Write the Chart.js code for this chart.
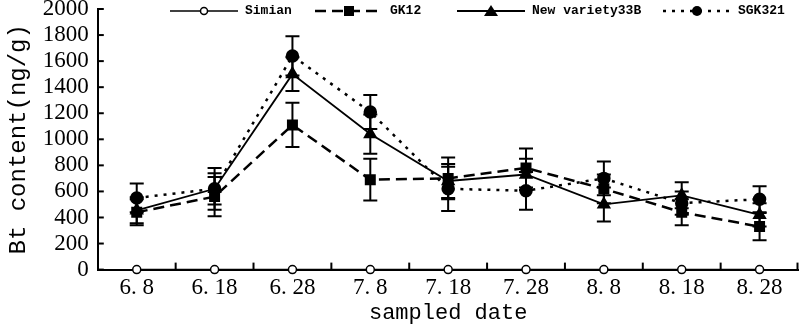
<!DOCTYPE html>
<html>
<head>
<meta charset="utf-8">
<script src="https://cdn.jsdelivr.net/npm/chart.js@4"></script>
<style>
  html, body { margin: 0; padding: 0; background: #fff; }
  #wrap { width: 807px; height: 327px; }
</style>
</head>
<body>
<div id="wrap"><canvas id="bt" width="807" height="327"></canvas></div>
<script>
const dates = ["6. 8", "6. 18", "6. 28", "7. 8", "7. 18", "7. 28", "8. 8", "8. 18", "8. 28"];
const simian = [0, 0, 0, 0, 0, 0, 0, 0, 0];
const gk12 = [440, 560, 1110, 690, 700, 780, 620, 440, 330];
const gk12Err = [100, 150, 170, 160, 160, 150, 110, 100, 105];
const nv33b = [455, 620, 1500, 1040, 680, 730, 500, 570, 420];
const nv33bErr = [100, 160, 130, 150, 130, 120, 130, 100, 90];
const sgk321 = [550, 620, 1640, 1210, 620, 605, 700, 510, 540];
const sgk321Err = [110, 120, 150, 130, 170, 145, 130, 90, 100];
const errs = [null, gk12Err, nv33bErr, sgk321Err];

// legend item start x (line start), drawn along the top of the plot
const legendX = [170, 315, 457, 663];

const plugin_extras = {
  id: "extras",
  afterDatasetsDraw: (chart) => {
    const ctx = chart.ctx;
    const ys = chart.scales.y;
    ctx.save();
    ctx.strokeStyle = "#000";
    ctx.lineWidth = 2;
    ctx.setLineDash([]);
    errs.forEach((err, di) => {
      if (!err) return;
      const meta = chart.getDatasetMeta(di);
      const vals = chart.data.datasets[di].data;
      meta.data.forEach((pt, i) => {
        const top = ys.getPixelForValue(vals[i] + err[i]);
        const bot = ys.getPixelForValue(vals[i] - err[i]);
        ctx.beginPath();
        ctx.moveTo(pt.x, top); ctx.lineTo(pt.x, bot);
        ctx.moveTo(pt.x - 7, top); ctx.lineTo(pt.x + 7, top);
        ctx.moveTo(pt.x - 7, bot); ctx.lineTo(pt.x + 7, bot);
        ctx.stroke();
      });
    });
    ctx.restore();
  },
  afterDraw: (chart) => {
    const ctx = chart.ctx;
    const xs = chart.scales.x;
    const ys = chart.scales.y;
    const area = chart.chartArea;
    ctx.save();
    ctx.strokeStyle = "#000";
    ctx.lineWidth = 2;
    // inward tick marks
    ys.ticks.forEach((t) => {
      const y = ys.getPixelForValue(t.value);
      ctx.beginPath(); ctx.moveTo(area.left, y); ctx.lineTo(area.left + 6, y); ctx.stroke();
    });
    for (let i = 0; i < dates.length; i++) {
      const x = i < dates.length - 1
        ? (xs.getPixelForTick(i) + xs.getPixelForTick(i + 1)) / 2
        : area.right - 1;
      ctx.beginPath(); ctx.moveTo(x, area.bottom); ctx.lineTo(x, area.bottom - 7); ctx.stroke();
    }
    // legend
    ctx.font = "bold 13px 'Liberation Mono'";
    ctx.textBaseline = "middle";
    ctx.fillStyle = "#000";
    const ly = 11;
    chart.data.datasets.forEach((ds, di) => {
      const x0 = legendX[di];
      ctx.lineWidth = ds.borderWidth;
      ctx.setLineDash(ds.borderDash || []);
      ctx.beginPath(); ctx.moveTo(x0, ly); ctx.lineTo(x0 + 68, ly); ctx.stroke();
      ctx.setLineDash([]);
      const mx = x0 + 34;
      ctx.lineWidth = 1.5;
      ctx.beginPath();
      if (ds.pointStyle === "rect") {
        ctx.rect(mx - 5, ly - 5, 10, 10); ctx.fill();
      } else if (ds.pointStyle === "triangle") {
        ctx.moveTo(mx, ly - 6); ctx.lineTo(mx + 7, ly + 5); ctx.lineTo(mx - 7, ly + 5); ctx.closePath(); ctx.fill();
      } else if (ds.pointBackgroundColor === "#fff") {
        ctx.arc(mx, ly, 3.5, 0, Math.PI * 2); ctx.fillStyle = "#fff"; ctx.fill(); ctx.stroke(); ctx.fillStyle = "#000";
      } else {
        ctx.arc(mx, ly, 5, 0, Math.PI * 2); ctx.fill();
      }
      ctx.fillText(ds.label, x0 + 75, ly);
    });
    ctx.restore();
  },
};

const ctx = document.getElementById("bt").getContext("2d");
new Chart(ctx, {
  type: "line",
  data: {
    labels: dates,
    datasets: [
      {
        label: "Simian",
        data: simian,
        borderColor: "#000",
        borderWidth: 1.5,
        pointStyle: "circle",
        pointRadius: 4,
        pointBorderWidth: 1.5,
        pointBackgroundColor: "#fff",
        pointBorderColor: "#000",
        clip: false,
      },
      {
        label: "GK12",
        data: gk12,
        borderColor: "#000",
        borderWidth: 2.5,
        borderDash: [11, 6],
        pointStyle: "rect",
        pointRadius: 6,
        pointBackgroundColor: "#000",
        pointBorderColor: "#000",
        clip: false,
      },
      {
        label: "New variety33B",
        data: nv33b,
        borderColor: "#000",
        borderWidth: 1.8,
        pointStyle: "triangle",
        pointRadius: 6.5,
        pointBackgroundColor: "#000",
        pointBorderColor: "#000",
        clip: false,
      },
      {
        label: "SGK321",
        data: sgk321,
        borderColor: "#000",
        borderWidth: 2.5,
        borderDash: [3, 6],
        pointStyle: "circle",
        pointRadius: 5.5,
        pointBackgroundColor: "#000",
        pointBorderColor: "#000",
        clip: false,
      },
    ],
  },
  options: {
    responsive: false,
    animation: false,
    layout: { padding: { left: 0, right: 3, top: 9, bottom: 0 } },
    plugins: {
      legend: { display: false },
      title: { display: false },
      tooltip: { enabled: false },
    },
    scales: {
      x: {
        offset: true,
        grid: { display: true, drawOnChartArea: false, drawTicks: false },
        border: { display: true, color: "#000", width: 2 },
        ticks: {
          color: "#000",
          padding: 7,
          maxRotation: 0,
          font: { family: "Liberation Serif", size: 23, lineHeight: 1 },
        },
        title: {
          display: true,
          text: "sampled date",
          color: "#000",
          padding: { top: -7, bottom: 1 },
          font: { family: "Liberation Mono", size: 22, lineHeight: 1.2 },
        },
      },
      y: {
        min: 0,
        max: 2000,
        afterFit: (scale) => { scale.paddingTop = 0; },
        grid: { display: true, drawOnChartArea: false, drawTicks: false },
        border: { display: true, color: "#000", width: 2 },
        ticks: {
          stepSize: 200,
          color: "#000",
          padding: 9,
          callback: (v) => String(v),
          font: { family: "Liberation Serif", size: 23, lineHeight: 1 },
        },
        title: {
          display: true,
          text: "Bt content(ng/g)",
          color: "#000",
          padding: { top: 4, bottom: 1 },
          font: { family: "Liberation Mono", size: 24, lineHeight: 1.2 },
        },
      },
    },
  },
  plugins: [plugin_extras],
});
</script>
</body>
</html>
